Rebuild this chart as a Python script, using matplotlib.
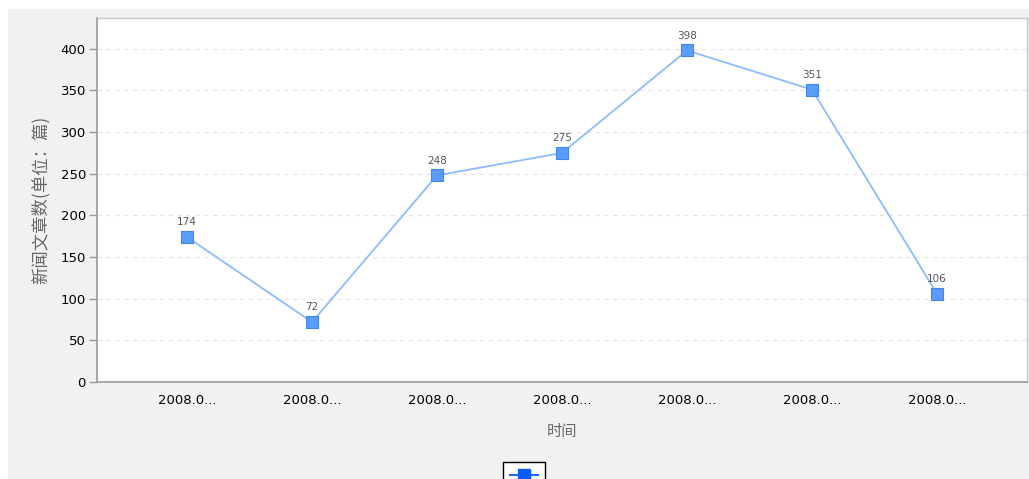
import matplotlib.pyplot as plt
from matplotlib.patches import Rectangle
from matplotlib.lines import Line2D

plt.rcParams['font.family'] = ['Noto Sans CJK SC', 'DejaVu Sans']

categories = ["2008.0...", "2008.0...", "2008.0...", "2008.0...",
              "2008.0...", "2008.0...", "2008.0..."]
counts = [174, 72, 248, 275, 398, 351, 106]
yticks = [0, 50, 100, 150, 200, 250, 300, 350, 400]

W, H = 1029, 479
fig = plt.figure(figsize=(W / 100, H / 100), dpi=100)
fig.patch.set_facecolor('white')

# light grey panel behind the chart
fig.patches.append(Rectangle((8 / W, 0), 1 - 8 / W, 1 - 9 / H,
                             transform=fig.transFigure, facecolor='#f1f1f1',
                             edgecolor='none', zorder=-10))

ax = fig.add_axes([97 / W, 1 - 382 / H, (1027 - 97) / W, (382 - 18) / H])
ax.set_facecolor('white')

x = list(range(len(counts)))
ax.plot(x, counts, color='#8cbcff', linewidth=1.3, zorder=3)
ax.plot(x, counts, linestyle='none', marker='s', markersize=8,
        markerfacecolor='#5a9cff', markeredgecolor='#3f86f5',
        markeredgewidth=0.8, zorder=4)

for xi, v in zip(x, counts):
    ax.annotate(str(v), (xi, v), xytext=(0, 7), textcoords='offset points',
                ha='center', va='bottom', fontsize=7.5, color='#555555',
                family='DejaVu Sans')

ax.set_xlim(-0.72, 6.72)
ax.set_ylim(0, 437)
ax.set_yticks(yticks)
ax.set_xticks(x)
ax.set_xticklabels(categories, fontsize=9.5, family='DejaVu Sans')
ax.tick_params(axis='y', labelsize=9.5, length=6, color='#999999',
               width=1, pad=2)
ax.tick_params(axis='x', length=0, pad=9)
for lbl in ax.get_yticklabels():
    lbl.set_family('DejaVu Sans')

ax.grid(axis='y', linestyle=(0, (4, 4)), color='#e3e3e3', linewidth=0.8)
ax.set_axisbelow(True)

for side in ['left', 'bottom']:
    ax.spines[side].set_color('#999999')
    ax.spines[side].set_linewidth(1.2)
for side in ['top', 'right']:
    ax.spines[side].set_color('#c8c8c8')
    ax.spines[side].set_linewidth(1)

ax.set_ylabel('新闻文章数(单位：篇)', fontsize=12.5, color='#666666',
              labelpad=8)
ax.set_xlabel('时间', fontsize=11, color='#666666', labelpad=11)

handle = Line2D([], [], color='#1a6bff', linewidth=1.5, marker='s',
                markersize=8, markerfacecolor='#0a5cff',
                markeredgecolor='#0a5cff')
fig.legend(handles=[handle], labels=[''], loc='upper center',
           bbox_to_anchor=(524 / W, 1 - 462 / H), frameon=True,
           fancybox=False, edgecolor='black', framealpha=1,
           handlelength=2.0, handletextpad=0, borderpad=0.5,
           borderaxespad=0)

fig.savefig('out.png', dpi=100)
